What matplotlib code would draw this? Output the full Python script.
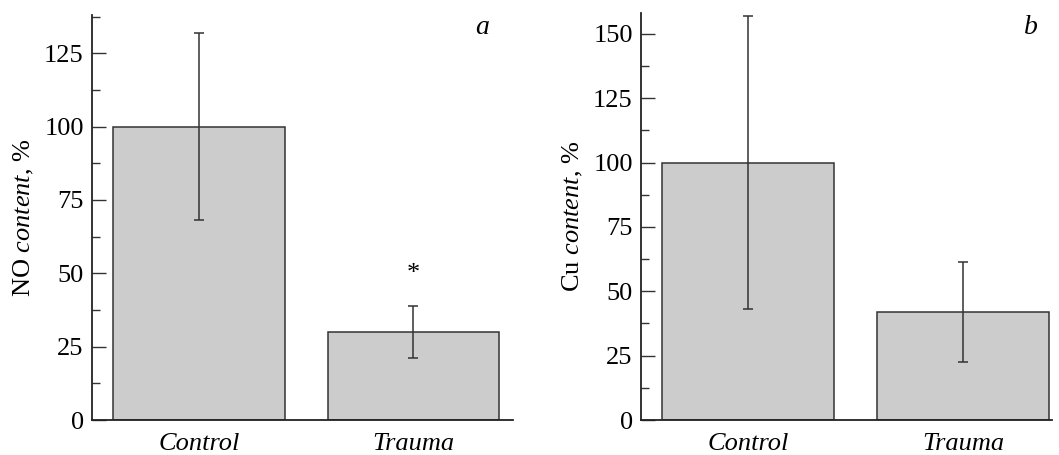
import matplotlib
matplotlib.use('Agg')
import matplotlib.pyplot as plt
from matplotlib.ticker import MultipleLocator

plt.rcParams['font.family'] = 'Liberation Serif'
plt.rcParams['mathtext.fontset'] = 'custom'
plt.rcParams['mathtext.rm'] = 'Liberation Serif'
plt.rcParams['mathtext.it'] = 'Liberation Serif:italic'

groups = ['Control', 'Trauma']
no_values = [100, 30]
no_errors = [32, 8.7]
cu_values = [100, 42]
cu_errors = [57, 19.5]

fig = plt.figure(figsize=(10.59, 4.55), dpi=100)
ax1 = fig.add_axes([0.0869, 0.0769, 0.3975, 0.890])
ax2 = fig.add_axes([0.6053, 0.0769, 0.3881, 0.894])

panels = [
    (ax1, no_values, no_errors, 138, (-0.5, 1.465), r'NO $\mathit{content}$, %', 'a', (0.926, 0.97)),
    (ax2, cu_values, cu_errors, 158, (-0.5, 1.414), r'Cu $\mathit{content}$, %', 'b', (0.949, 0.966)),
]

for ax, vals, errs, ytop, xl, ylab, tag, tagpos in panels:
    ax.bar(range(len(groups)), vals, width=0.8, color='#cccccc',
           edgecolor='#333333', linewidth=1.1)
    ax.errorbar(range(len(groups)), vals, yerr=errs, fmt='none',
                ecolor='#333333', elinewidth=1.1, capsize=3.5, capthick=1.1)
    ax.set_ylim(0, ytop)
    ax.set_xlim(*xl)
    ax.set_xticks(range(len(groups)))
    ax.set_xticklabels(groups, fontstyle='italic', fontsize=19)
    ax.yaxis.set_major_locator(MultipleLocator(25))
    ax.yaxis.set_minor_locator(MultipleLocator(12.5))
    ax.tick_params(axis='y', which='major', direction='in', length=10,
                   width=1.0, labelsize=19, pad=6, color='#333333')
    ax.tick_params(axis='y', which='minor', direction='in', length=6,
                   width=1.0, color='#333333')
    ax.tick_params(axis='x', length=0, pad=9)
    for s in ['top', 'right']:
        ax.spines[s].set_visible(False)
    for s in ['left', 'bottom']:
        ax.spines[s].set_linewidth(1.3)
        ax.spines[s].set_color('#222222')
    ax.set_ylabel(ylab, fontsize=19, labelpad=6)
    ax.text(tagpos[0], tagpos[1], tag, transform=ax.transAxes, fontsize=20,
            fontstyle='italic', ha='center', va='center')

ax1.text(1, no_values[1] + no_errors[1] + 11, '*', ha='center', va='center',
         fontsize=19)

fig.savefig('out.png', dpi=100)
